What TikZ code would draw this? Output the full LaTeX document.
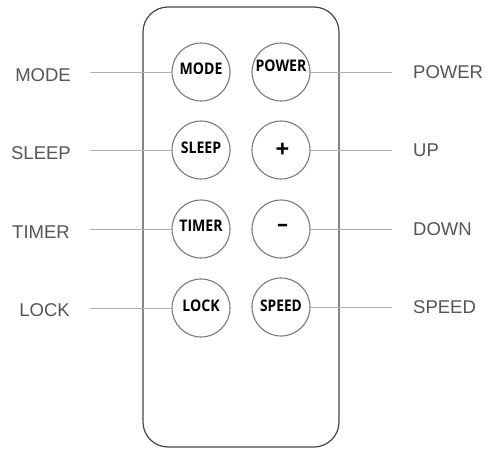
\documentclass[tikz,border=0pt]{standalone}
\usepackage{fontspec}
\setmainfont{Liberation Sans}
\newfontfamily\btnfont{Open Sans}
\definecolor{labelgray}{HTML}{555555}
\definecolor{leadgray}{HTML}{B0B0B0}
\definecolor{circgray}{HTML}{7A7A7A}
\definecolor{bodygray}{HTML}{454545}
\begin{document}
\begin{tikzpicture}[x=1pt,y=-1pt,
  body/.style={draw=bodygray, line width=1.2pt, rounded corners=25pt},
  btn/.style={circle, draw=circgray, line width=1.1pt, minimum size=58pt, inner sep=0pt},
  btxt/.style={inner sep=0pt, font=\btnfont\bfseries\fontsize{16}{16}\selectfont, text=black},
  lbl/.style={inner sep=0pt, font=\fontsize{18.5}{18.5}\selectfont, text=labelgray},
  lead/.style={draw=leadgray, line width=0.9pt}]
\useasboundingbox (0,0) rectangle (492,451);
\draw[body] (143,7) rectangle (339,447);
% buttons
\node[btn] (mode)  at (201,72)  {};
\node[btn] (power) at (281,72)  {};
\node[btn] (sleep) at (201,150) {};
\node[btn] (up)    at (281,150) {};
\node[btn] (timer) at (201,229) {};
\node[btn] (down)  at (281,229) {};
\node[btn] (lock)  at (201,308) {};
\node[btn] (speed) at (281,307) {};
% button texts
\node[btxt] (tmode)  at ([yshift=3pt]mode.center)  {\scalebox{0.88}[1]{MODE}};
\node[btxt] (tpower) at ([yshift=6pt]power.center) {\scalebox{0.88}[1]{POWER}};
\node[btxt] (tsleep) at ([yshift=2pt]sleep.center) {\scalebox{0.88}[1]{SLEEP}};
\node[btxt] (tup)    at ([xshift=1.5pt]up.center)    {\fontsize{24}{24}\selectfont +};
\node[btxt] (ttimer) at ([yshift=3pt]timer.center) {\scalebox{0.88}[1]{TIMER}};
\node[btxt] (tdown)  at ([xshift=1.5pt,yshift=1pt]down.center)  {\fontsize{22}{22}\selectfont –};
\node[btxt] (tlock)  at ([yshift=2pt]lock.center)  {\scalebox{0.88}[1]{LOCK}};
\node[btxt] (tspeed) at ([yshift=1pt]speed.center) {\scalebox{0.86}[1]{SPEED}};
% left labels
\node[lbl, anchor=east] (lmode)  at (71,75)  {MODE};
\node[lbl, anchor=east] (lsleep) at (71,153) {SLEEP};
\node[lbl, anchor=east] (ltimer) at (70,232) {TIMER};
\node[lbl, anchor=east] (llock)  at (70,310) {LOCK};
% right labels
\node[lbl, anchor=west] (lpower) at (413,72)  {POWER};
\node[lbl, anchor=west] (lup)    at (413,150) {UP};
\node[lbl, anchor=west] (ldown)  at (413,229) {DOWN};
\node[lbl, anchor=west] (lspeed) at (413,307) {SPEED};
% leader ends
\coordinate (cmode)  at (90,72);
\coordinate (csleep) at (90,150);
\coordinate (ctimer) at (90,229);
\coordinate (clock)  at (90,308);
\coordinate (cpower) at (392,72);
\coordinate (cup)    at (392,150);
\coordinate (cdown)  at (392,229);
\coordinate (cspeed) at (392,307);
\draw[lead] (cmode) -- (mode);
\draw[lead] (csleep) -- (sleep);
\draw[lead] (ctimer) -- (timer);
\draw[lead] (clock) -- (lock);
\draw[lead] (power) -- (cpower);
\draw[lead] (up) -- (cup);
\draw[lead] (down) -- (cdown);
\draw[lead] (speed) -- (cspeed);
\end{tikzpicture}
\end{document}
